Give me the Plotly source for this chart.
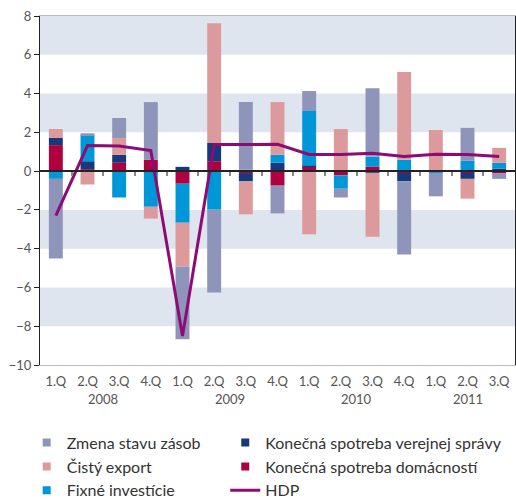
import plotly.graph_objects as go

quarters = ["1.Q", "2.Q", "3.Q", "4.Q", "1.Q", "2.Q", "3.Q", "4.Q",
            "1.Q", "2.Q", "3.Q", "4.Q", "1.Q", "2.Q", "3.Q"]
years = ["2008", "2009", "2010", "2011"]
year_pos = [1.5, 5.5, 9.5, 13]

domacnosti = [1.34, 0.10, 0.43, 0.58, -0.65, 0.51, -0.10, -0.75, 0.22, -0.22, 0.22, -0.09, 0.0, -0.09, -0.12]
verejna = [0.37, 0.41, 0.41, -0.05, 0.22, 0.94, -0.43, 0.43, 0.05, 0.0, -0.09, -0.44, 0.0, -0.31, 0.12]
fixne = [-0.40, 1.34, -1.36, -1.79, -2.01, -1.99, 0.07, 0.41, 2.83, -0.69, 0.53, 0.58, -0.09, 0.53, 0.31]
export = [0.46, -0.69, 0.87, -0.61, -2.26, 6.17, -1.70, 2.72, -3.26, 2.17, -3.29, 4.53, 2.12, -1.02, 0.77]
zasoby = [-4.11, 0.10, 1.03, 2.98, -3.75, -4.27, 3.49, -1.43, 1.03, -0.45, 3.53, -3.77, -1.21, 1.70, -0.28]
hdp = [-2.3, 1.32, 1.29, 1.06, -8.5, 1.37, 1.37, 1.38, 0.86, 0.86, 0.92, 0.75, 0.87, 0.86, 0.76]

names = {
    "zasoby": "Zmena stavu zásob",
    "export": "Čistý export",
    "fixne": "Fixné investície",
    "verejna": "Konečná spotreba verejnej správy",
    "domacnosti": "Konečná spotreba domácností",
    "hdp": "HDP",
}
colors = {
    "zasoby": "#8F94BA",
    "export": "#DD9A9C",
    "fixne": "#0097D8",
    "verejna": "#15397A",
    "domacnosti": "#AF0040",
    "hdp": "#8C0C74",
}

x = list(range(len(quarters)))
FONT = "Lato, 'Open Sans', sans-serif"

fig = go.Figure()

# stacking order (bottom -> top)
for key, vals in [("domacnosti", domacnosti), ("verejna", verejna), ("fixne", fixne),
                  ("export", export), ("zasoby", zasoby)]:
    fig.add_trace(go.Bar(x=x, y=vals, name=names[key], marker=dict(color=colors[key], line=dict(width=0)),
                         width=0.44, showlegend=False))

fig.add_trace(go.Scatter(x=x, y=hdp, mode="lines", name=names["hdp"],
                         line=dict(color=colors["hdp"], width=3), showlegend=False))

# legend entries: column 1 -> legend, column 2 -> legend2
for key in ["zasoby", "export", "fixne"]:
    fig.add_trace(go.Scatter(x=[None], y=[None], mode="markers", name=names[key], legend="legend",
                             marker=dict(symbol="square", size=8, color=colors[key])))
for key in ["verejna", "domacnosti"]:
    fig.add_trace(go.Scatter(x=[None], y=[None], mode="markers", name=names[key], legend="legend2",
                             marker=dict(symbol="square", size=8, color=colors[key])))
fig.add_trace(go.Scatter(x=[None], y=[None], mode="lines", name=names["hdp"], legend="legend2",
                         line=dict(color=colors["hdp"], width=3)))

# background bands
for y0 in [6, 2, -4, -8]:
    fig.add_shape(type="rect", xref="paper", x0=0, x1=1, yref="y", y0=y0, y1=y0 + 2,
                  fillcolor="#DFE5EE", line=dict(width=0), layer="below")

for yr, xp in zip(years, year_pos):
    fig.add_annotation(x=xp, xref="x", y=-0.097, yref="paper", text=yr, showarrow=False,
                       yanchor="middle", font=dict(size=13, color="#555555", family=FONT))

legend_common = dict(orientation="v", xanchor="left", yref="container", y=0.1469, yanchor="top",
                     font=dict(size=16, color="#333333", family=FONT), bgcolor="rgba(0,0,0,0)",
                     traceorder="normal")

fig.update_layout(
    width=516, height=499,
    margin=dict(l=40, r=1, t=16, b=134),
    plot_bgcolor="white", paper_bgcolor="white",
    barmode="relative",
    font=dict(family=FONT, color="#555555"),
    xaxis=dict(range=[-0.5, 14.5], tickvals=x, ticktext=quarters, showgrid=False, zeroline=False,
               showline=True, linecolor="#BBBBBB", linewidth=1, mirror=True,
               ticks="outside", ticklen=4, tickcolor="rgba(0,0,0,0)",
               tickfont=dict(size=13, color="#555555")),
    xaxis2=dict(range=[-0.5, 14.5], overlaying="x", anchor="free", position=10 / 18, side="bottom",
                tickvals=[i + 0.5 for i in range(14)], showticklabels=False, showgrid=False,
                zeroline=False, showline=True, linecolor="#222222", linewidth=1.5,
                ticks="outside", ticklen=4, tickcolor="#888888", tickwidth=1.5),
    yaxis=dict(range=[-10, 8], dtick=2, showgrid=False, zeroline=False, showline=True,
               linecolor="#222222", linewidth=1, mirror=True, ticks="outside", ticklen=5,
               tickcolor="#222222", tickfont=dict(size=13, color="#555555")),
    legend=dict(x=-0.028, **legend_common),
    legend2=dict(x=0.390, **legend_common),
)

# invisible trace on xaxis2 so the axis is drawn
fig.add_trace(go.Scatter(x=[None], y=[None], xaxis="x2", showlegend=False))

fig.write_html(
    "out.html",
    config={"displayModeBar": False},
    post_script=(
        "document.documentElement.style.margin='0';"
        "document.documentElement.style.padding='0';"
        "document.documentElement.style.overflow='hidden';"
        "document.body.style.margin='0';"
        "document.body.style.padding='0';"
        "document.body.style.overflow='hidden';"
    ),
)
